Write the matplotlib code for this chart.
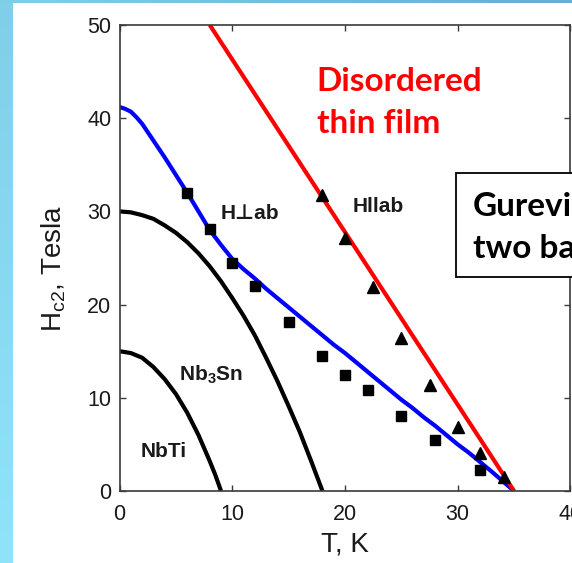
import numpy as np
import matplotlib
matplotlib.use("Agg")
import matplotlib.pyplot as plt
from matplotlib.patches import Rectangle

plt.rcParams["mathtext.fontset"] = "custom"
plt.rcParams["mathtext.rm"] = "Liberation Sans"
plt.rcParams["mathtext.bf"] = "Liberation Sans:bold"

# Upper critical field curves (T in K, Hc2 in Tesla)
nbti_T = [0, 1, 2, 3, 4, 5, 6, 7, 8, 8.5, 9]
nbti_H = [15.0, 14.8, 14.3, 13.3, 12.0, 10.4, 8.4, 6.0, 3.2, 1.7, 0.0]

nb3sn_T = [0, 1, 2, 3, 4, 5, 6, 7, 8, 9, 10, 11, 12, 13, 14, 15, 16, 17, 18]
nb3sn_H = [30.0, 29.9, 29.6, 29.2, 28.5, 27.7, 26.7, 25.5, 24.1, 22.5, 20.7,
           18.8, 16.7, 14.3, 11.8, 9.1, 6.3, 3.2, 0.0]

perp_T = [0, 0.5, 1, 1.5, 2, 2.5, 3, 4, 5, 6, 7, 8, 9, 10, 11, 12, 13, 14, 15, 16, 17,
          18, 19, 20, 21, 22, 23, 24, 25, 26, 27, 28, 29, 30, 31, 32, 33, 34, 35]
perp_H = [41.2, 41.0, 40.7, 40.1, 39.4, 38.5, 37.6, 35.8, 33.9, 32.0, 30.0, 28.0, 26.4,
          24.9, 23.8, 22.8, 21.7, 20.7, 19.7, 18.7, 17.7, 16.7, 15.7, 14.8, 13.8,
          12.8, 11.8, 10.8, 9.8, 8.9, 7.9, 7.0, 6.0, 5.0, 4.1, 3.1, 2.1, 1.05, 0.0]

par_T = [8.0, 35.0]
par_H = [50.0, 0.0]

# Measured points
sq_T = [6, 8, 10, 12, 15, 18, 20, 22, 25, 28, 32]
sq_H = [32.0, 28.1, 24.5, 22.0, 18.1, 14.5, 12.5, 10.8, 8.0, 5.5, 2.3]
tri_T = [18, 20, 22.5, 25, 27.5, 30, 32, 34.1]
tri_H = [31.8, 27.1, 21.9, 16.4, 11.4, 6.9, 4.1, 1.5]

x_ticks = [0, 10, 20, 30, 40]
y_ticks = [0, 10, 20, 30, 40, 50]

W, H = 572, 563
fig = plt.figure(figsize=(W / 100, H / 100), dpi=100, facecolor="white")

def fx(px):
    return px / W

def fy(py):
    return 1 - py / H

# slide frame: blue gradient strips on the left and top edges
left_ax = fig.add_axes([0, 0, fx(13), 1])
grad_v = np.linspace(0, 1, 256).reshape(-1, 1)
c_top = np.array([0x80, 0xcf, 0xe8]) / 255
c_bot = np.array([0x8f, 0xe4, 0xfa]) / 255
img_v = c_top[None, None, :] * (1 - grad_v[..., None]) + c_bot[None, None, :] * grad_v[..., None]
left_ax.imshow(img_v, aspect="auto", extent=[0, 1, 0, 1], origin="upper")
left_ax.axis("off")

top_ax = fig.add_axes([0, fy(3), 1, 3 / H])
grad_h = np.linspace(0, 1, 256).reshape(1, -1)
c_l = np.array([0x80, 0xcf, 0xe8]) / 255
c_r = np.array([0x69, 0xad, 0xd2]) / 255
img_h = c_l[None, None, :] * (1 - grad_h[..., None]) + c_r[None, None, :] * grad_h[..., None]
top_ax.imshow(img_h, aspect="auto", extent=[0, 1, 0, 1])
top_ax.axis("off")

ax = fig.add_axes([fx(119.6), fy(491), (570.4 - 119.6) / W, (491 - 25) / H])

lw = 3.0
ax.plot(nbti_T, nbti_H, color="black", lw=lw, solid_capstyle="butt")
ax.plot(nb3sn_T, nb3sn_H, color="black", lw=lw, solid_capstyle="butt")
ax.plot(perp_T, perp_H, color="#0000ff", lw=lw, solid_capstyle="butt")
ax.plot(par_T, par_H, color="#ff0000", lw=lw, solid_capstyle="butt")
ax.plot(sq_T, sq_H, ls="none", marker="s", ms=6.5, color="black", zorder=5)
ax.plot(tri_T, tri_H, ls="none", marker="^", ms=8, color="black", zorder=5)

ax.set_xlim(0, 40)
ax.set_ylim(0, 50)
ax.set_xticks(x_ticks)
ax.set_yticks(y_ticks)

sans = ["Liberation Sans", "DejaVu Sans"]
for s in ax.spines.values():
    s.set_color("#3a3a3a")
    s.set_linewidth(1.2)
ax.tick_params(direction="in", length=4, width=1, colors="#3a3a3a",
               top=True, right=True, labelcolor="#1a1a1a", labelsize=15.5)
ax.tick_params(axis="x", pad=9)
ax.tick_params(axis="y", pad=6)
for lab in ax.get_xticklabels() + ax.get_yticklabels():
    lab.set_family(sans)

ax.set_xlabel("T, K", fontsize=20, family=sans, color="#1a1a1a", labelpad=5)
fig.text(fx(54), fy(269), "H$_{\\rm c2}$, Tesla", rotation=90, ha="center",
         va="center", fontsize=20, family=sans, color="#1a1a1a")

lab_kw = dict(fontsize=15, fontweight="bold", family=sans, color="#1a1a1a",
              va="baseline", ha="left")
ax.text(9.0, 29.15, "H\u22a5ab", **lab_kw)
ax.text(20.7, 29.9, "Hllab", **lab_kw)
ax.text(5.3, 11.9, "Nb$_{\\mathbf{3}}$Sn", **lab_kw)
ax.text(1.9, 3.68, "NbTi", **lab_kw)

# annotations
big = ["Lato", "DejaVu Sans"]
fig.text(fx(316.7), fy(90.7), "Disordered", color="#ff0000", fontsize=24,
         fontweight="bold", family=big, va="baseline", ha="left")
fig.text(fx(316.7), fy(133.3), "thin film", color="#ff0000", fontsize=24,
         fontweight="bold", family=big, va="baseline", ha="left")

box = Rectangle((fx(455.7), fy(277)), fx(200), (277 - 173) / H,
                transform=fig.transFigure, facecolor="white",
                edgecolor="black", lw=1.3, zorder=10)
fig.patches.append(box)
fig.text(fx(472.7), fy(215.7), "Gurevich", color="black", fontsize=24,
         fontweight="bold", family=big, va="baseline", ha="left", zorder=11)
fig.text(fx(472.7), fy(258.3), "two bands", color="black", fontsize=24,
         fontweight="bold", family=big, va="baseline", ha="left", zorder=11)

fig.savefig("out.png", dpi=100, facecolor="white")
